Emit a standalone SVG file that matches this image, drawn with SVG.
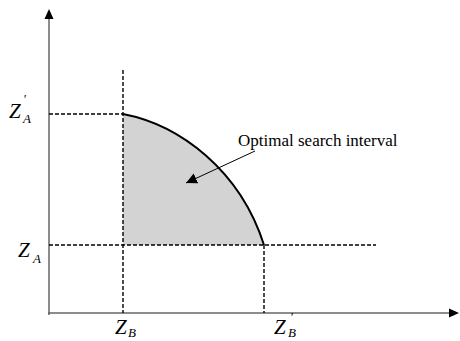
<svg xmlns="http://www.w3.org/2000/svg" width="460" height="341" viewBox="0 0 460 341">
<style>
.axis{stroke:#666;stroke-width:1.5;fill:none}
.dash{stroke:#000;stroke-width:1.4;stroke-dasharray:4 2;fill:none}
.lbl{font-family:"Liberation Serif",serif;font-style:italic;font-size:21px;fill:#000}
.sub{font-size:13px}
.txt{font-family:"Liberation Serif",serif;font-size:17px;fill:#000}
</style>
<defs>
<marker id="ah" viewBox="0 0 10 10" refX="10" refY="5" markerWidth="11" markerHeight="11" markerUnits="userSpaceOnUse" orient="auto">
<path d="M0,0 L10,5 L0,10 z" fill="#000"/>
</marker>
</defs>
<g id="region">
<path d="M123,114 C180,125 240,170 264,245 L123,245 Z" fill="#d3d3d3" stroke="none"/>
<path d="M123,114 C180,125 240,170 264,245" fill="none" stroke="#000" stroke-width="2"/>
</g>
<g id="connectors">
<line class="axis" x1="49" y1="315" x2="49" y2="18"/>
<path d="M44.5,19 L49,9 L53.5,19 Z" fill="#000"/>
<line class="axis" x1="48" y1="313" x2="450" y2="313"/>
<path d="M449,308.5 L459,313 L449,317.5 Z" fill="#000"/>
<line class="dash" x1="49" y1="114" x2="123" y2="114"/>
<line class="dash" x1="123" y1="70" x2="123" y2="313"/>
<line class="dash" x1="49" y1="245" x2="376" y2="245"/>
<line class="dash" x1="264" y1="245" x2="264" y2="313"/>
<line x1="255" y1="151" x2="186" y2="183" stroke="#000" stroke-width="1" marker-end="url(#ah)"/>
</g>
<g id="labels">
<text class="txt" x="238" y="146">Optimal search interval</text>
<text class="lbl" x="9" y="118">Z<tspan class="sub" x="23" y="103">'</tspan><tspan class="sub" x="23" y="123">A</tspan></text>
<text class="lbl" x="18" y="257">Z<tspan class="sub" x="33" y="263">A</tspan></text>
<text class="lbl" x="115" y="334">Z<tspan class="sub" x="128" y="337">B</tspan></text>
<text class="lbl" x="274" y="334">Z<tspan class="sub" x="290" y="321">'</tspan><tspan class="sub" x="288" y="337">B</tspan></text>
</g>
</svg>
